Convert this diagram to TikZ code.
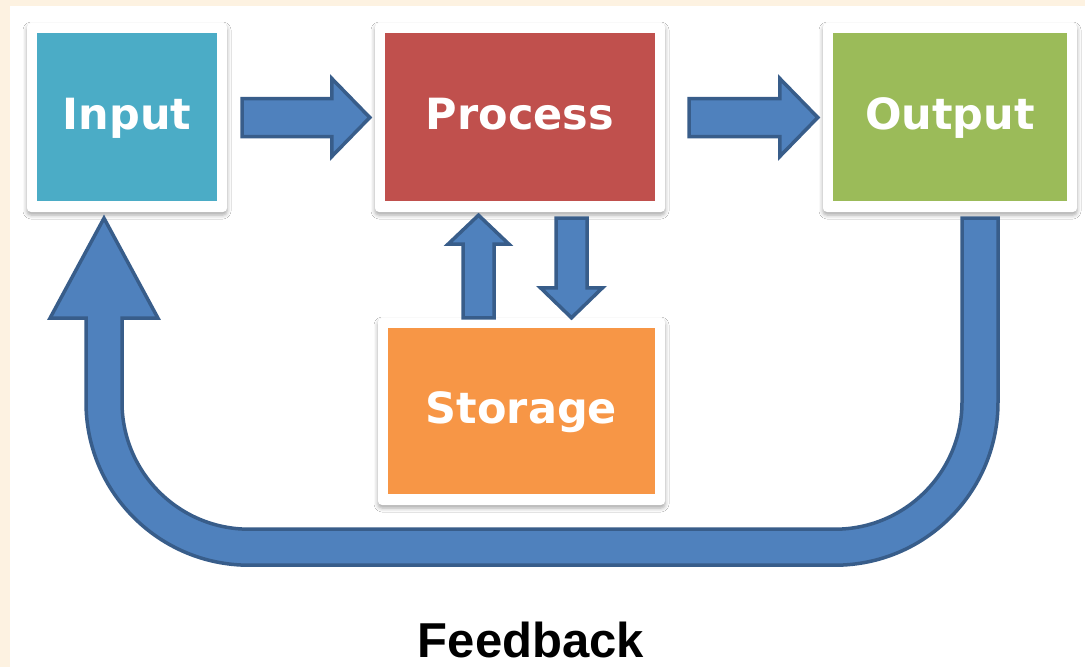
\documentclass[tikz,border=0pt]{standalone}
\usepackage{fontspec}
\newfontfamily\cardfont{DejaVu Sans}
\newfontfamily\fbfont{Liberation Sans}
\usetikzlibrary{calc,shadows.blur}
\definecolor{cream}{HTML}{FDF2E1}
\definecolor{cInput}{HTML}{4BACC6}
\definecolor{cProcess}{HTML}{C0504D}
\definecolor{cOutput}{HTML}{9BBB59}
\definecolor{cStorage}{HTML}{F79646}
\definecolor{arrFill}{HTML}{4F81BD}
\definecolor{arrLine}{HTML}{385D8A}
\tikzset{
  card/.style={fill=white, rounded corners=4pt, inner sep=0pt,
    blur shadow={shadow xshift=0pt, shadow yshift=-3pt, shadow blur radius=4pt, shadow opacity=35},
    font=\cardfont\bfseries\fontsize{43}{43}\selectfont, text=white,
    text height=33pt, text depth=10pt,
    path picture={\fill[#1, sharp corners]
      ([shift={(10pt,-10pt)}]path picture bounding box.north west) rectangle
      ([shift={(-10pt,11pt)}]path picture bounding box.south east);}},
  blockarrow/.style={fill=arrFill, draw=arrLine, line width=3.5pt, line join=miter},
  fbtext/.style={font=\fbfont\bfseries\fontsize{49}{49}\selectfont, text=black, inner sep=0pt, anchor=base}
}
% #1 start, #2 tip, #3 shaft half width, #4 head half width, #5 head length
\newcommand\blockarr[5]{%
  \draw[blockarrow]
    ($(#1)!#3!90:(#2)$) --
    ($($(#2)!#5!(#1)$)!#3!-90:(#1)$) --
    ($($(#2)!#5!(#1)$)!#4!-90:(#1)$) --
    (#2) --
    ($($(#2)!#5!(#1)$)!#4!90:(#1)$) --
    ($($(#2)!#5!(#1)$)!#3!90:(#1)$) --
    ($(#1)!#3!-90:(#2)$) -- cycle;}
\begin{document}
\begin{tikzpicture}[x=1pt,y=-1pt]
  \useasboundingbox (0,0) rectangle (1085,667);
  \fill[cream] (0,0) rectangle (1085,667);
  \fill[white] (10,6) rectangle (1085,667);

  \node[card=cInput, minimum width=200pt, minimum height=189pt] (in) at (127,117.5) {Input};
  \node[card=cProcess, minimum width=290pt, minimum height=189pt] (pr) at (520,117.5) {Process};
  \node[card=cOutput, minimum width=254pt, minimum height=189pt] (out) at (950,117.5) {Output};
  \node[card=cStorage, minimum width=287pt, minimum height=187pt] (st) at (521.5,411.5) {Storage};

  % horizontal arrows
  \coordinate (a1s) at ([xshift=15pt]in.east);
  \coordinate (a1e) at ([xshift=-5pt]pr.west);
  \coordinate (a2s) at ([xshift=24pt]pr.east);
  \coordinate (a2e) at ([xshift=-5pt]out.west);
  \blockarr{a1s}{a1e}{19pt}{39pt}{38pt}
  \blockarr{a2s}{a2e}{19pt}{39pt}{38pt}

  % storage <-> process
  \coordinate (u1) at ($(st.north)+(-43,0)$);
  \coordinate (u2) at ($(u1 |- pr.south)+(0,3)$);
  \coordinate (d1) at ($(pr.south)+(51.5,6)$);
  \coordinate (d2) at (d1 |- st.north);
  \blockarr{u1}{u2}{15.5pt}{30.5pt}{29pt}
  \blockarr{d1}{d2}{15.5pt}{31pt}{30pt}

  % feedback U arrow
  \coordinate (fb1) at ($(out.south)+(30,6)$);
  \coordinate (fb2) at ($(in.south)+(-23,6)$);
  \draw[blockarrow]
    ($(fb1)+(-18,0)$) -- ++(36,0) -- ++(0,184)
    arc[start angle=0, end angle=90, radius=163]
    -- ++(-586,0)
    arc[start angle=90, end angle=180, radius=163]
    -- ++(0,-84) -- ++(-36,0) -- (fb2) -- ++(54,100) -- ++(-36,0) -- ++(0,84)
    arc[start angle=180, end angle=90, radius=127]
    -- ++(586,0)
    arc[start angle=90, end angle=0, radius=127]
    -- cycle;

  \node[fbtext] (fb) at (531,657) {Feedback};
\end{tikzpicture}
\end{document}
